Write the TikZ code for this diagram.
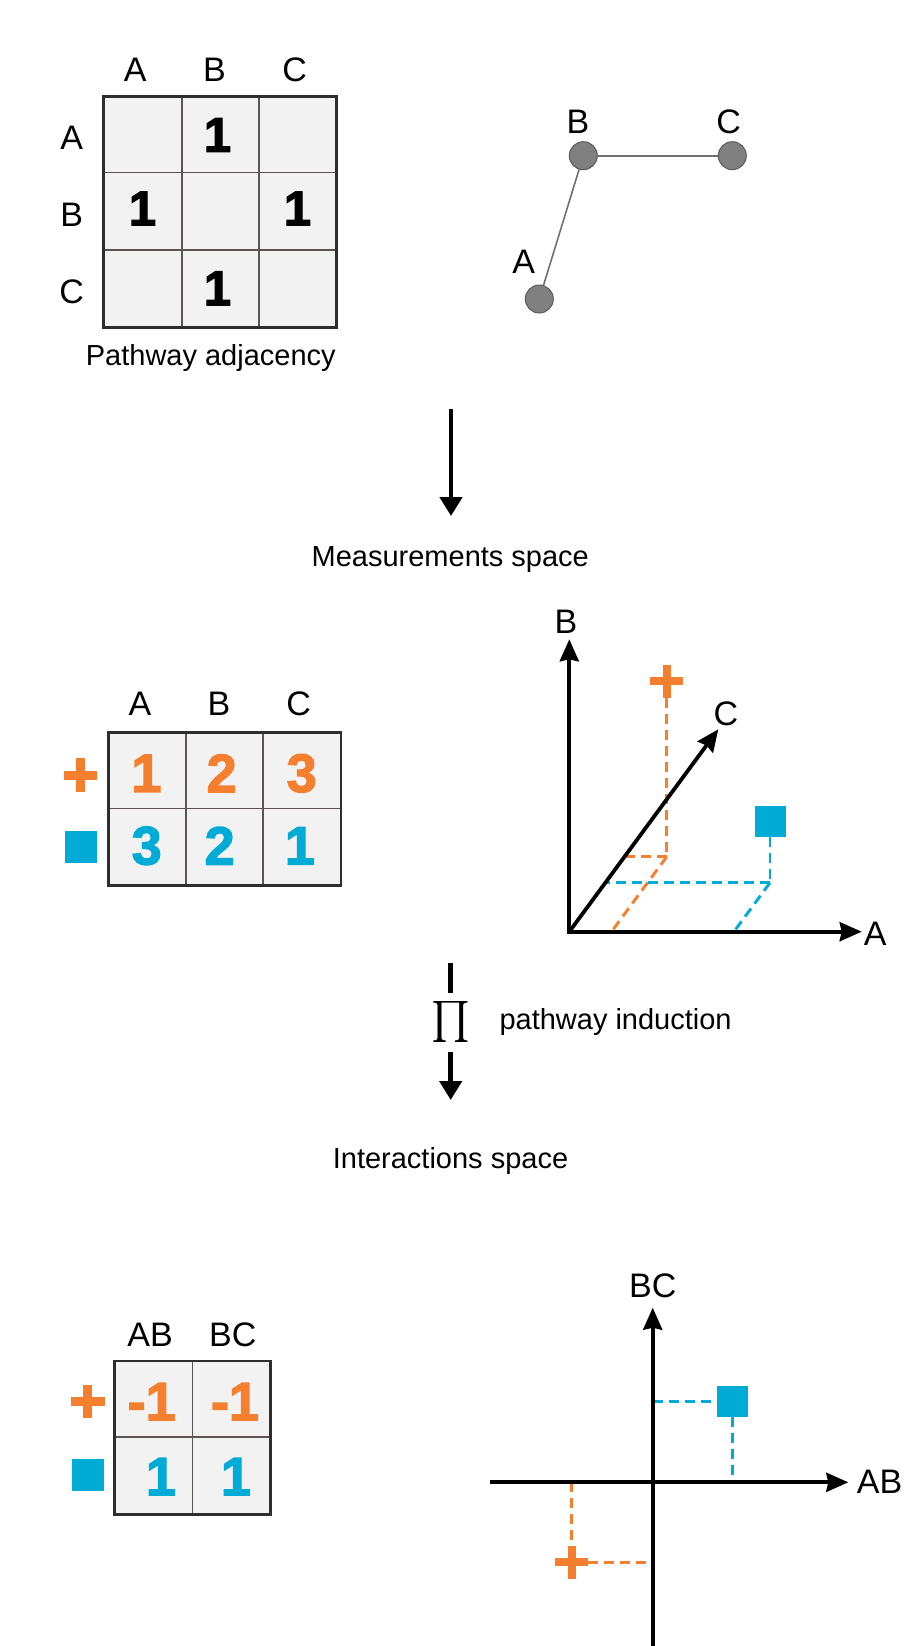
\documentclass[tikz,border=0pt]{standalone}
\usepackage{amsmath}
\usepackage{fontspec}
\setmainfont{Liberation Sans}
\newfontface\heavydigits{Liberation Sans Bold}[FakeBold=2.5]
\usetikzlibrary{arrows.meta}

\definecolor{orng}{HTML}{F47F2E}
\definecolor{blu}{HTML}{00ABD5}
\definecolor{cellfill}{HTML}{F2F2F2}
\definecolor{matgrid}{HTML}{5C5353}
\definecolor{matframe}{HTML}{2E2E2E}
\definecolor{nodegray}{HTML}{808080}
\definecolor{nodeedge}{HTML}{5A5A5A}
\definecolor{edgegray}{HTML}{707070}

\tikzset{
  lbl/.style={font=\fontsize{34}{34}\selectfont, inner sep=0pt},
  desc/.style={font=\fontsize{29}{29}\selectfont, inner sep=0pt},
  dig/.style={font=\fontsize{49}{49}\heavydigits, inner sep=0pt},
  bigdig/.style={font=\fontsize{54}{54}\heavydigits, inner sep=0pt},
  cellgrid/.style={draw=matgrid, line width=1.6pt},
  cellframe/.style={draw=matframe, line width=2.6pt},
  gnode/.style={circle, fill=nodegray, draw=nodeedge, line width=1pt, minimum size=28pt, inner sep=0pt},
  gedge/.style={draw=edgegray, line width=1.6pt},
  flowarrow/.style={line width=4.5pt, -{Triangle[length=19pt,width=22pt]}},
  flowline/.style={line width=4.5pt},
  axisline/.style={line width=3.8pt},
  axhead/.tip={Stealth[length=22pt,width=19pt,inset=2pt]},
  axtip/.style={-axhead},
  dashline/.style={line width=2.9pt, dash pattern=on 10pt off 6pt},
  sqmark/.style={fill=blu, minimum size=#1, inner sep=0pt},
  sqmark/.default=31pt,
  plush/.style={fill=orng, minimum width=#1, minimum height=8pt, inner sep=0pt},
  plusv/.style={fill=orng, minimum height=#1, minimum width=8pt, inner sep=0pt},
  tplush/.style={fill=orng, minimum width=#1, minimum height=9pt, inner sep=0pt},
  tplusv/.style={fill=orng, minimum height=#1, minimum width=9pt, inner sep=0pt},
}

\begin{document}
\begin{tikzpicture}[x=1pt,y=-1pt]
\fill[white] (0,0) rectangle (910,1646);
\useasboundingbox (0,0) rectangle (910,1646);

% ---------- pathway adjacency matrix ----------
\fill[cellfill] (103.3,96.7) rectangle (336.7,327.3);
\draw[cellgrid] (181.7,96.7) -- (181.7,327.3) (259,96.7) -- (259,327.3)
                (103.3,172.3) -- (336.7,172.3) (103.3,250) -- (336.7,250);
\draw[cellframe] (103.3,96.7) rectangle (336.7,327.3);
\node[lbl] (m1cA) at (135.3,69.5) {A};
\node[lbl] (m1cB) at (214.5,69.5) {B};
\node[lbl] (m1cC) at (294.7,69.5) {C};
\node[lbl] (m1rA) at (71.7,137.5) {A};
\node[lbl] (m1rB) at (71.7,215) {B};
\node[lbl] (m1rC) at (71.7,291.7) {C};
\node[dig] (m1ab) at (217.5,135) {1};
\node[dig] (m1ba) at (142.5,208.5) {1};
\node[dig] (m1bc) at (297.5,208.5) {1};
\node[dig] (m1cb) at (217.5,288.3) {1};
\node[desc, anchor=base] (m1cap) at (210.8,365) {Pathway adjacency};

% ---------- pathway graph ----------
\node[gnode] (gB) at (583.3,155.7) {};
\node[gnode] (gC) at (732.3,155.7) {};
\node[gnode] (gA) at (539.3,299) {};
\draw[gedge] (gA) -- (gB);
\draw[gedge] (gB) -- (gC);
\node[lbl] (gBl) at (578,122) {B};
\node[lbl] (gCl) at (728.7,122) {C};
\node[lbl] (gAl) at (523.8,262) {A};

% ---------- first arrow ----------
\coordinate (a1s) at (451,409);
\coordinate (a1e) at (451,516);
\draw[flowarrow] (a1s) -- (a1e);
\node[desc, anchor=base] (meas) at (450.3,566.7) {Measurements space};

% ---------- measurement matrix ----------
\fill[cellfill] (108.3,732.3) rectangle (341,885.7);
\draw[cellgrid] (185.7,732.3) -- (185.7,885.7) (262.7,732.3) -- (262.7,885.7)
                (108.3,808.3) -- (341,808.3);
\draw[cellframe] (108.3,732.3) rectangle (341,885.7);
\node[lbl] (m2cA) at (140,704) {A};
\node[lbl] (m2cB) at (219,704) {B};
\node[lbl] (m2cC) at (298.7,704) {C};
\node[tplush=33pt] (m2ph) at (80.7,775) {};
\node[tplusv=34pt] (m2pv) at (80.7,775) {};
\node[sqmark=32pt] (m2sq) at (81,846.7) {};
\node[bigdig, text=orng] (m2o1) at (146.5,773.3) {1};
\node[bigdig, text=orng] (m2o2) at (221.7,773.3) {2};
\node[bigdig, text=orng] (m2o3) at (301.7,773.3) {3};
\node[bigdig, text=blu] (m2b1) at (146.7,845.8) {3};
\node[bigdig, text=blu] (m2b2) at (219.7,845.8) {2};
\node[bigdig, text=blu] (m2b3) at (300,845.8) {1};

% ---------- 3D measurement axes ----------
\coordinate (O3) at (569.3,931.7);
\coordinate (Bt) at (569.3,639.3);
\coordinate (At) at (861.7,931.7);
\coordinate (Ct) at (718.3,729.3);

% orange sample
\node[plush=33pt] (p3h) at (666.7,681) {};
\node[plusv=33pt] (p3v) at (666.7,681) {};
\coordinate (oc) at (666.7,856.7);
\coordinate (oCx) at (624.5,856.7);
\coordinate (oAx) at (611.5,931.7);
\draw[dashline, orng] (p3v.south) -- (oc);
\draw[dashline, orng] (oc) -- (oCx);
\draw[dashline, orng] (oc) -- (oAx);

% blue sample
\node[sqmark] (s3) at (770,821.7) {};
\coordinate (bc) at (770,882.7);
\coordinate (bCx) at (605.4,882.7);
\coordinate (bAx) at (733.9,931.7);
\draw[dashline, blu] (s3.south) -- (bc);
\draw[dashline, blu] (bc) -- (bCx);
\draw[dashline, blu] (bc) -- (bAx);

\draw[axisline, axhead-axhead] (Bt) -- (O3) -- (At);
\draw[axisline, axtip] (O3) -- (Ct);
\node[lbl] (axB) at (566,621.7) {B};
\node[lbl] (axC) at (726,714) {C};
\node[lbl] (axA) at (875.3,934) {A};

% ---------- second arrow ----------
\coordinate (a2s) at (450.7,963.3);
\coordinate (a2m) at (450.7,993.3);
\coordinate (a2n) at (450.7,1051.7);
\coordinate (a2e) at (450.7,1100);
\draw[flowline] (a2s) -- (a2m);
\node[inner sep=0pt] (piop) at (450.7,1021.7) {\resizebox*{!}{41pt}{$\prod$}};
\draw[flowarrow] (a2n) -- (a2e);
\node[desc, anchor=base west] (induct) at (499.3,1029) {pathway induction};
\node[desc, anchor=base] (inter) at (450.5,1168.3) {Interactions space};

% ---------- interaction matrix ----------
\fill[cellfill] (114.3,1361) rectangle (270.7,1514.3);
\draw[cellgrid] (192.3,1361) -- (192.3,1514.3) (114.3,1436.7) -- (270.7,1436.7);
\draw[cellframe] (114.3,1361) rectangle (270.7,1514.3);
\node[lbl] (m3cAB) at (150,1334.3) {AB};
\node[lbl] (m3cBC) at (232.7,1334.3) {BC};
\node[tplush=34pt] (m3ph) at (87.7,1401.7) {};
\node[tplusv=33pt] (m3pv) at (87.7,1401.7) {};
\node[sqmark=32pt] (m3sq) at (87.7,1475) {};
\node[bigdig, text=orng] (m3o1) at (151.7,1401.7) {-1};
\node[bigdig, text=orng] (m3o2) at (235,1401.7) {-1};
\node[bigdig, text=blu] (m3b1) at (161,1476.7) {1};
\node[bigdig, text=blu] (m3b2) at (236,1476.7) {1};

% ---------- 2D interaction axes ----------
\coordinate (O2) at (652.7,1482.3);
\coordinate (Hl) at (490,1482.3);
\coordinate (Ht) at (848.3,1482.3);
\coordinate (Vb) at (652.7,1646);
\coordinate (Vt) at (652.7,1307.7);

\node[sqmark] (s2) at (732.7,1401.7) {};
\coordinate (s2y) at (652.7,1401.7);
\coordinate (s2x) at (732.7,1482.3);
\draw[dashline, blu] (s2y) -- (s2.west);
\draw[dashline, blu] (s2.south) -- (s2x);

\node[plush=33pt] (p2h) at (571.7,1562.3) {};
\node[plusv=33pt] (p2v) at (571.7,1562.3) {};
\coordinate (p2x) at (571.7,1482.3);
\coordinate (p2y) at (652.7,1562.3);
\draw[dashline, orng] (p2x) -- (p2v.north);
\draw[dashline, orng] (p2h.east) -- (p2y);

\draw[axisline, axtip] (Hl) -- (Ht);
\draw[axisline, axtip] (Vb) -- (Vt);
\node[lbl] (axBC) at (652.8,1285.8) {BC};
\node[lbl] (axAB) at (879.5,1481.7) {AB};
\end{tikzpicture}
\end{document}
